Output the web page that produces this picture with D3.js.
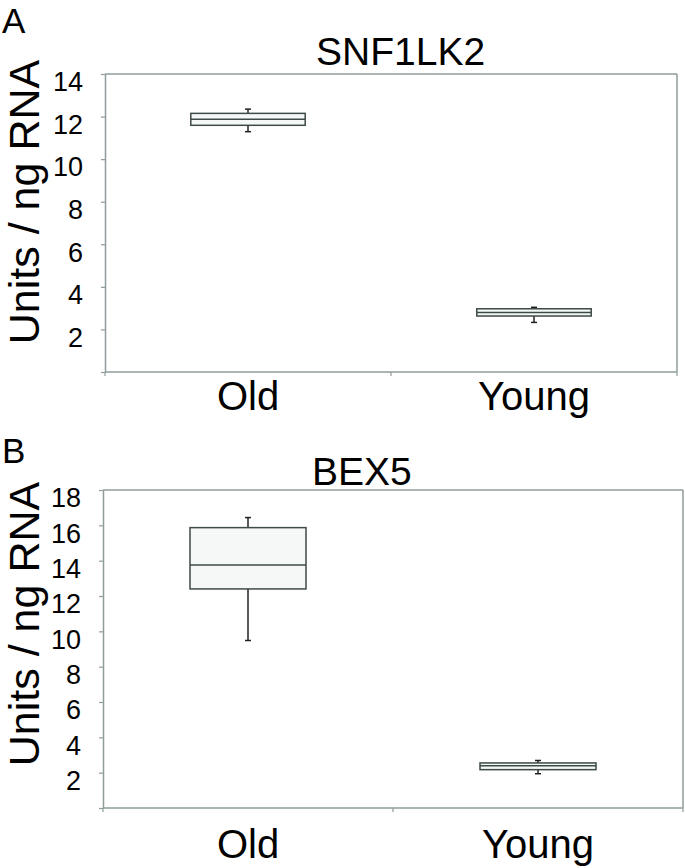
<!DOCTYPE html>
<html>
<head>
<meta charset="utf-8">
<script src="https://cdn.jsdelivr.net/npm/d3@7"></script>
<style>
  html, body { margin: 0; padding: 0; background: #fff; }
  svg { display: block; font-family: "Liberation Sans", Arial, Helvetica, sans-serif; }
</style>
</head>
<body>
<svg id="chart" width="685" height="868"></svg>
<script>
// ---- Data ----
const categories = ["Old", "Young"];

// Panel A: SNF1LK2
const snfMin    = [11.29, 2.33];
const snfQ1     = [11.59, 2.63];
const snfMedian = [11.87, 2.79];
const snfQ3     = [12.15, 2.97];
const snfMax    = [12.35, 3.04];
const snfTicks  = [0, 2, 4, 6, 8, 10, 12, 14];

// Panel B: BEX5
const bexMin    = [9.48, 1.94];
const bexQ1     = [12.40, 2.17];
const bexMedian = [13.76, 2.39];
const bexQ3     = [15.87, 2.55];
const bexMax    = [16.44, 2.69];
const bexTicks  = [0, 2, 4, 6, 8, 10, 12, 14, 16, 18];

const panels = [
  { letter: "A", title: "SNF1LK2", min: snfMin, q1: snfQ1, med: snfMedian, q3: snfQ3, max: snfMax,
    ticks: snfTicks, yMax: 14,
    left: 105, right: 677, top: 74, bottom: 372,
    letterY: 33, titleX: 316, titleY: 65, catY: 410, yTitleCenter: 202 },
  { letter: "B", title: "BEX5", min: bexMin, q1: bexQ1, med: bexMedian, q3: bexQ3, max: bexMax,
    ticks: bexTicks, yMax: 18,
    left: 103, right: 683, top: 490, bottom: 808,
    letterY: 463, titleX: 312, titleY: 485, catY: 858, yTitleCenter: 624 }
];

const axisColor = "#8e9c9b";
const boxStroke = "#3c4a48";
const svg = d3.select("#chart");

panels.forEach(p => {
  const g = svg.append("g");
  const x = d3.scaleBand().domain(categories).range([p.left, p.right]).padding(0);
  const y = d3.scaleLinear().domain([0, p.yMax]).range([p.bottom, p.top]);

  // panel letter
  g.append("text").attr("x", 2).attr("y", p.letterY)
    .attr("font-size", 35).attr("fill", "#000").text(p.letter);
  // title
  g.append("text").attr("x", p.titleX).attr("y", p.titleY)
    .attr("font-size", 39).attr("fill", "#000").text(p.title);

  // frame (top & right)
  g.append("line").attr("x1", p.left).attr("x2", p.right).attr("y1", p.top).attr("y2", p.top)
    .attr("stroke", axisColor).attr("stroke-width", 1.5);
  g.append("line").attr("x1", p.right).attr("x2", p.right).attr("y1", p.top).attr("y2", p.bottom)
    .attr("stroke", axisColor).attr("stroke-width", 1.5);

  // y axis
  const yAxis = d3.axisLeft(y).tickValues(p.ticks).tickSize(4).tickSizeOuter(0)
    .tickFormat(d => d === 0 ? "" : d);
  const ya = g.append("g").attr("transform", `translate(${p.left},0)`).call(yAxis);
  ya.select(".domain").attr("stroke", axisColor).attr("stroke-width", 1.5);
  ya.selectAll(".tick line").attr("stroke", axisColor).attr("stroke-width", 1.2);
  ya.selectAll(".tick text").attr("font-size", 27).attr("fill", "#000")
    .attr("font-family", "'Liberation Sans', Arial, sans-serif")
    .attr("x", -22).attr("dy", "0.62em");

  // x axis
  const boundaries = [p.left, (p.left + p.right) / 2, p.right];
  const xa = g.append("g").attr("transform", `translate(0,${p.bottom})`);
  xa.append("line").attr("x1", p.left).attr("x2", p.right).attr("y1", 0).attr("y2", 0)
    .attr("stroke", axisColor).attr("stroke-width", 1.5);
  xa.selectAll("line.tk").data(boundaries).join("line").attr("class", "tk")
    .attr("x1", d => d).attr("x2", d => d).attr("y1", 0).attr("y2", 4)
    .attr("stroke", axisColor).attr("stroke-width", 1.2);
  xa.selectAll("text").data(categories).join("text")
    .attr("x", d => x(d) + x.bandwidth() / 2).attr("y", p.catY - p.bottom)
    .attr("text-anchor", "middle").attr("font-size", 40).attr("fill", "#000").text(d => d);

  // y axis title
  g.append("text")
    .attr("transform", `translate(39,${p.yTitleCenter}) rotate(-90)`)
    .attr("text-anchor", "middle").attr("font-size", 43).attr("fill", "#000")
    .text("Units / ng RNA");

  // boxes
  const boxW = x.bandwidth() * 0.4;
  const capW = 6;
  categories.forEach((c, i) => {
    const cx = x(c) + x.bandwidth() / 2;
    // whiskers
    g.append("line").attr("x1", cx).attr("x2", cx).attr("y1", y(p.max[i])).attr("y2", y(p.q3[i]))
      .attr("stroke", "#222").attr("stroke-width", 1.5);
    g.append("line").attr("x1", cx).attr("x2", cx).attr("y1", y(p.q1[i])).attr("y2", y(p.min[i]))
      .attr("stroke", "#222").attr("stroke-width", 1.5);
    g.append("line").attr("x1", cx - capW / 2).attr("x2", cx + capW / 2)
      .attr("y1", y(p.max[i])).attr("y2", y(p.max[i])).attr("stroke", "#222").attr("stroke-width", 1.5);
    g.append("line").attr("x1", cx - capW / 2).attr("x2", cx + capW / 2)
      .attr("y1", y(p.min[i])).attr("y2", y(p.min[i])).attr("stroke", "#222").attr("stroke-width", 1.5);
    // box
    g.append("rect").attr("x", cx - boxW / 2).attr("width", boxW)
      .attr("y", y(p.q3[i])).attr("height", y(p.q1[i]) - y(p.q3[i]))
      .attr("fill", "#f6f8f8").attr("stroke", boxStroke).attr("stroke-width", 1.5);
    // median
    g.append("line").attr("x1", cx - boxW / 2).attr("x2", cx + boxW / 2)
      .attr("y1", y(p.med[i])).attr("y2", y(p.med[i]))
      .attr("stroke", boxStroke).attr("stroke-width", 1.5);
  });
});
</script>
</body>
</html>
